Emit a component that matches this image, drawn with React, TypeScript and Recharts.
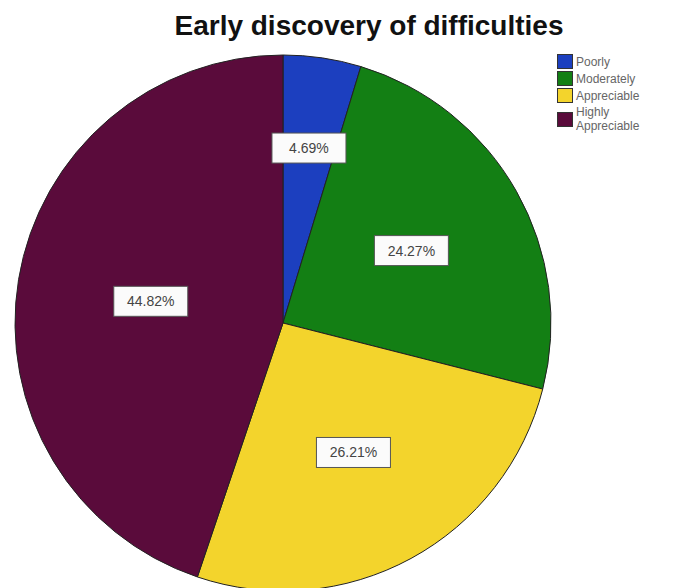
import { PieChart, Pie, Cell, Legend } from 'recharts'

const categories = ['Poorly', 'Moderately', 'Appreciable', 'Highly Appreciable']
const percents = [4.69, 24.27, 26.21, 44.82]
const colors = ['#1c3fbf', '#137f14', '#f3d42c', '#5a0b3b']

const data = categories.map((name, i) => ({ name, value: percents[i] }))

const RADIAN = Math.PI / 180

// small slices push their label outward, big ones pull it in
const labelFraction = (v: number) => (v < 10 ? 0.66 : v > 40 ? 0.5 : 0.55)

const renderLabel = (props: any) => {
  const { cx, cy, midAngle, outerRadius, value } = props
  const r = outerRadius * labelFraction(value)
  const x = cx + r * Math.cos(-midAngle * RADIAN)
  const y = cy + r * Math.sin(-midAngle * RADIAN)
  const w = 74
  const h = 30
  return (
    <g>
      <rect x={x - w / 2} y={y - h / 2} width={w} height={h} fill="#fbfbfb" stroke="#555" strokeWidth={1} />
      <text x={x} y={y} textAnchor="middle" dominantBaseline="central" fontSize={14} fill="#444"
        fontFamily="'Liberation Sans', Arial, sans-serif">
        {value.toFixed(2)}%
      </text>
    </g>
  )
}

const renderLegend = () => (
  <div style={{ fontFamily: "'Liberation Sans', Arial, sans-serif", fontSize: 12, color: '#666', lineHeight: '14px' }}>
    {categories.map((c, i) => (
      <div key={c} style={{ display: 'flex', alignItems: 'center', marginBottom: 2 }}>
        <span style={{
          width: 14, height: 13, background: colors[i], border: '1px solid #333',
          marginRight: 3, flexShrink: 0,
        }} />
        <span style={{ width: 72 }}>{c}</span>
      </div>
    ))}
  </div>
)

export default function App() {
  return (
    <div style={{ position: 'absolute', left: 0, top: 0, width: 689, height: 588, background: '#fff', overflow: 'hidden' }}>
      <div style={{
        position: 'absolute', top: 10, left: 0, width: 738, textAlign: 'center',
        fontFamily: "'Liberation Sans', Arial, sans-serif", fontWeight: 'bold', fontSize: 28, color: '#111',
      }}>
        Early discovery of difficulties
      </div>
      <PieChart width={689} height={588} margin={{ top: 0, right: 0, bottom: 0, left: 0 }}>
        <Pie
          data={data}
          dataKey="value"
          nameKey="name"
          cx={283}
          cy={323}
          outerRadius={268}
          startAngle={90}
          endAngle={-270}
          stroke="#222"
          strokeWidth={1}
          label={renderLabel}
          labelLine={false}
          isAnimationActive={false}
        >
          {data.map((d, i) => (
            <Cell key={d.name} fill={colors[i]} />
          ))}
        </Pie>
        <Legend
          layout="vertical"
          verticalAlign="top"
          align="right"
          content={renderLegend}
          wrapperStyle={{ top: 54, left: 557, width: 120 }}
        />
      </PieChart>
    </div>
  )
}
